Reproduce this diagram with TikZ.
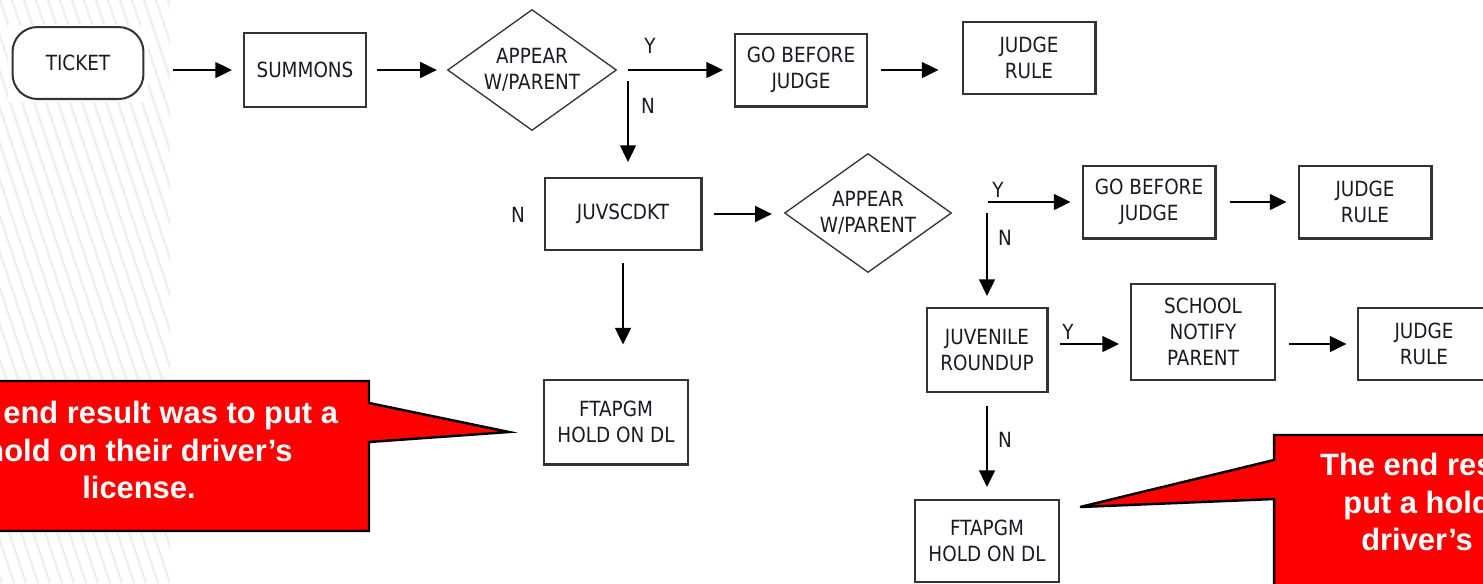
\documentclass[tikz,border=0pt]{standalone}
\usepackage{fontspec}
\setmainfont{DejaVu Sans}
\newfontfamily\flowfont[FakeStretch=0.88]{DejaVu Sans}
\newfontfamily\calloutfont{Liberation Sans}
\usetikzlibrary{arrows.meta,shapes.geometric}

\definecolor{inkdark}{HTML}{1A1A26}
\definecolor{boxgray}{HTML}{333333}
\definecolor{hatchgray}{HTML}{EEEEEE}
\definecolor{calloutred}{HTML}{FF0000}

\begin{document}
\begin{tikzpicture}[x=0.02cm,y=-0.02cm,
  flowtext/.style={font=\flowfont\fontsize{11.9}{14.74}\selectfont, text=inkdark, align=center},
  box/.style={flowtext, rectangle, draw=boxgray, line width=1.15pt, inner sep=0pt},
  terminal/.style={box, rounded corners=0.5cm},
  decision/.style={flowtext, diamond, draw=boxgray, line width=0.75pt, inner xsep=-20pt, inner ysep=-5pt},
  arr/.style={draw=black, line width=1.15pt, -{Triangle[length=9.5pt,width=9pt]}},
  branchlabel/.style={flowtext, inner sep=0pt},
  callout/.style={fill=calloutred, draw=black, line width=1.4pt, line join=miter},
  callouttext/.style={font=\calloutfont\bfseries\fontsize{17.57}{21.54}\selectfont, text=white, align=center, inner sep=0pt}
]
\clip (0,0) rectangle (1483,583);
\fill[white] (0,0) rectangle (1483,583);

% faint diagonal hatching along the left margin
\begin{scope}
  \clip (0,0) rectangle (170,583);
  \foreach \i in {-17,...,15}
    \draw[hatchgray, line width=1.3pt] (\i*12,0) -- (\i*12+194,583);
\end{scope}
\fill[white] (8,25) rectangle (148,102);

% ---- first row ----
\node[terminal, minimum width=2.62cm, minimum height=1.44cm] (ticket) at (78,63) {TICKET};
\node[box, minimum width=2.44cm, minimum height=1.48cm] (summons) at (305,70) {SUMMONS};
\node[decision, minimum width=3.38cm, minimum height=2.42cm] (d1) at (532,70) {APPEAR\\W/PARENT};
\node[box, minimum width=2.64cm, minimum height=1.46cm] (gob1) at (801,70) {GO BEFORE\\JUDGE};
\node[box, minimum width=2.66cm, minimum height=1.44cm] (jr1) at (1029,58) {JUDGE\\RULE};

% ---- second row ----
\node[box, minimum width=3.14cm, minimum height=1.44cm] (juvs) at (623,214) {JUVSCDKT};
\node[decision, minimum width=3.34cm, minimum height=2.38cm] (d2) at (868,213) {APPEAR\\W/PARENT};
\node[box, minimum width=2.66cm, minimum height=1.46cm] (gob2) at (1149,202) {GO BEFORE\\JUDGE};
\node[box, minimum width=2.66cm, minimum height=1.46cm] (jr2) at (1365,202) {JUDGE\\RULE};

% ---- third row ----
\node[box, minimum width=2.42cm, minimum height=1.68cm] (roundup) at (987,350) {JUVENILE\\ROUNDUP};
\node[box, minimum width=2.88cm, minimum height=1.92cm] (school) at (1203,332) {SCHOOL\\NOTIFY\\PARENT};
\node[box, minimum width=2.66cm, minimum height=1.44cm] (jr3) at (1424,344) {JUDGE\\RULE};

% ---- outcomes ----
\node[box, minimum width=2.88cm, minimum height=1.70cm] (ftap1) at (616,422) {FTAPGM\\HOLD ON DL};
\node[box, minimum width=2.88cm, minimum height=1.64cm] (ftap2) at (987,541) {FTAPGM\\HOLD ON DL};

% branch points next to the decisions
\coordinate (b1) at (628,70);
\coordinate (b1n) at (628,81);
\coordinate (b2) at (988,202);
\coordinate (b2n) at (987,213);
\coordinate (b3) at (1060,344);

% ---- connectors ----
\draw[arr, shorten <=0.58cm, shorten >=0.22cm] (ticket.east |- summons.west) -- (summons.west);
\draw[arr, shorten <=0.2cm, shorten >=0.2cm] (summons.east) -- (d1.west);
\draw[arr, shorten >=0.22cm] (b1) -- (gob1.west);
\draw[arr, shorten >=0.3cm] (b1n) -- (b1n |- juvs.north);
\draw[arr, shorten <=0.26cm, shorten >=0.46cm] (gob1.east) -- (gob1.east -| jr1.west);
\draw[arr, shorten <=0.22cm, shorten >=0.24cm] (juvs.east) -- (juvs.east -| d2.west);
\draw[arr, shorten >=0.22cm] (b2) -- (gob2.west);
\draw[arr, shorten >=0.22cm] (b2n) -- (b2n |- roundup.north);
\draw[arr, shorten <=0.26cm, shorten >=0.22cm] (gob2.east) -- (jr2.west);
\draw[arr, shorten >=0.22cm] (b3) -- (b3 -| school.west);
\draw[arr, shorten <=0.26cm, shorten >=0.2cm] (school.east |- jr3.west) -- (jr3.west);
\draw[arr, shorten <=0.24cm, shorten >=0.68cm] (juvs.south) -- (juvs.south |- ftap1.north);
\draw[arr, shorten <=0.26cm, shorten >=0.24cm] (roundup.south) -- (roundup.south |- ftap2.north);

% ---- branch labels ----
\node[branchlabel] (y1) at (650,46) {Y};
\node[branchlabel] (n1) at (648,106) {N};
\node[branchlabel] (n0) at (518,215) {N};
\node[branchlabel] (y2) at (998,190) {Y};
\node[branchlabel] (n2) at (1005,238) {N};
\node[branchlabel] (y3) at (1068,332) {Y};
\node[branchlabel] (n3) at (1005,440) {N};

% ---- red callouts ----
\coordinate (tip1) at (509,432);
\coordinate (tip2) at (1080,507);
\draw[callout] (-100,381) -- (369,381) -- (369,403) -- (tip1) -- (369,442) -- (369,531) -- (-100,531) -- cycle;
\draw[callout] (1274,435) -- (1700,435) -- (1700,620) -- (1274,620) -- (1274,499) -- (tip2) -- (1274,460) -- cycle;
\node[callouttext] (note1) at (139,450) {The end result was to put a\\hold on their driver’s\\license.};
\node[callouttext] (note2) at (1478,502) {The end result was to\\put a hold on their\\driver’s license.};
\end{tikzpicture}
\end{document}
